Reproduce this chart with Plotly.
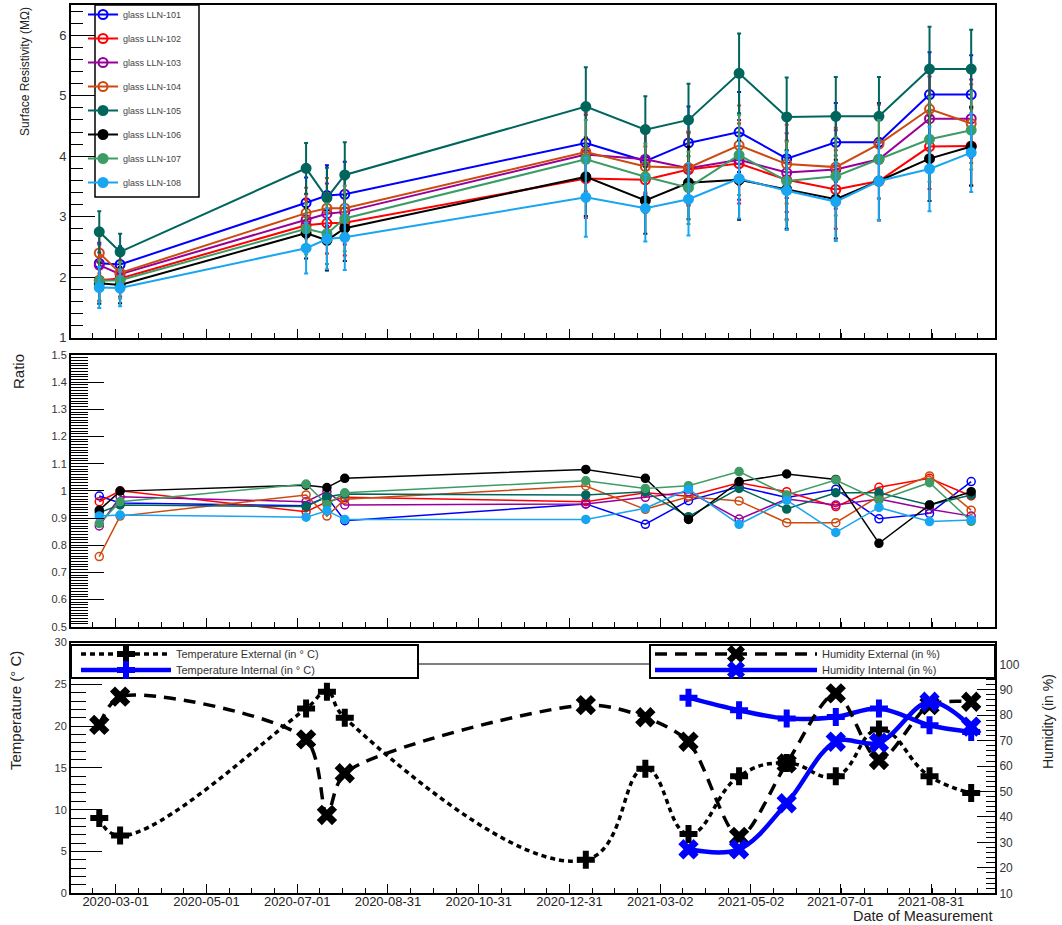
import plotly.graph_objects as go

# ---------------- data ----------------
dates = ['2020-02-19', '2020-03-04', '2020-07-07', '2020-07-21', '2020-08-02',
         '2021-01-11', '2021-02-20', '2021-03-21', '2021-04-24', '2021-05-26',
         '2021-06-28', '2021-07-27', '2021-08-30', '2021-09-27']
int_dates = dates[7:]

names = ['glass LLN-101', 'glass LLN-102', 'glass LLN-103', 'glass LLN-104',
         'glass LLN-105', 'glass LLN-106', 'glass LLN-107', 'glass LLN-108']

res_101 = [2.23, 2.21, 3.23, 3.35, 3.37, 4.22, 3.92, 4.22, 4.40, 3.96, 4.23, 4.23, 5.02, 5.02]
res_102 = [1.95, 1.98, 2.86, 2.89, 2.90, 3.63, 3.61, 3.78, 3.88, 3.61, 3.45, 3.59, 4.16, 4.17]
res_103 = [2.20, 2.05, 2.95, 3.05, 3.08, 4.03, 3.95, 3.80, 3.94, 3.73, 3.78, 3.95, 4.62, 4.62]
res_104 = [2.40, 2.07, 3.06, 3.14, 3.14, 4.07, 3.83, 3.81, 4.18, 3.87, 3.82, 4.20, 4.78, 4.54]
res_105 = [2.75, 2.42, 3.80, 3.31, 3.69, 4.82, 4.44, 4.60, 5.37, 4.65, 4.66, 4.66, 5.44, 5.44]
res_106 = [1.90, 1.87, 2.73, 2.61, 2.81, 3.66, 3.27, 3.56, 3.61, 3.45, 3.29, 3.59, 3.96, 4.16]
res_107 = [1.94, 1.95, 2.80, 2.72, 2.97, 3.95, 3.66, 3.48, 4.02, 3.59, 3.67, 3.95, 4.28, 4.43]
res_108 = [1.83, 1.82, 2.48, 2.63, 2.66, 3.32, 3.14, 3.29, 3.63, 3.43, 3.25, 3.59, 3.79, 4.06]
res_err = [0.34, 0.30, 0.42, 0.50, 0.54, 0.65, 0.55, 0.60, 0.66, 0.65, 0.65, 0.65, 0.70, 0.65]

ratio_101 = [0.981, 0.955, 0.945, 0.978, 0.890, 0.952, 0.877, 0.964, 1.015, 0.976, 1.006, 0.897, 0.917, 1.034]
ratio_102 = [0.960, 1.000, 0.923, 0.960, 0.976, 0.960, 0.993, 0.980, 1.030, 0.997, 0.942, 1.013, 1.046, 0.981]
ratio_103 = [0.871, 0.978, 0.960, 0.997, 0.948, 0.952, 0.976, 0.997, 0.896, 0.970, 0.948, 0.970, 0.932, 0.907]
ratio_104 = [0.758, 0.907, 0.985, 0.907, 0.969, 1.018, 0.932, 0.978, 0.963, 0.883, 0.883, 0.980, 1.055, 0.929]
ratio_105 = [0.920, 0.948, 0.942, 0.978, 0.988, 0.985, 0.997, 0.905, 1.009, 0.933, 0.993, 0.993, 0.948, 0.985]
ratio_106 = [0.929, 0.999, 1.021, 1.012, 1.046, 1.079, 1.046, 0.895, 1.034, 1.062, 1.042, 0.807, 0.948, 0.997]
ratio_107 = [0.880, 0.960, 1.025, 0.950, 0.993, 1.037, 1.009, 1.019, 1.071, 0.985, 1.040, 0.966, 1.030, 0.888]
ratio_108 = [0.907, 0.911, 0.903, 0.927, 0.895, 0.895, 0.936, 1.006, 0.877, 0.966, 0.847, 0.939, 0.887, 0.893]

temp_ext = [9.0, 6.9, 22.1, 24.1, 21.0, 4.0, 14.9, 7.1, 14.0, 15.6, 14.0, 19.6, 14.0, 12.0]
hum_ext = [76.2, 87.3, 70.5, 40.8, 57.2, 84.0, 79.2, 69.6, 32.2, 61.1, 88.6, 62.4, 84.0, 85.3]
temp_int = [23.4, 21.9, 20.9, 21.1, 22.1, 20.1, 19.3]
hum_int = [27.3, 27.3, 45.4, 69.6, 69.2, 85.3, 75.5]

x_ticks = ['2020-03-01', '2020-05-01', '2020-07-01', '2020-08-31', '2020-10-31',
           '2020-12-31', '2021-03-02', '2021-05-02', '2021-07-01', '2021-08-31']
res_ticks = [1, 2, 3, 4, 5, 6]
ratio_ticks = [0.5, 0.6, 0.7, 0.8, 0.9, 1.0, 1.1, 1.2, 1.3, 1.4, 1.5]
ratio_labels = ['0.5', '0.6', '0.7', '0.8', '0.9', '1', '1.1', '1.2', '1.3', '1.4', '1.5']
temp_ticks = [0, 5, 10, 15, 20, 25, 30]
hum_ticks = [10, 20, 30, 40, 50, 60, 70, 80, 90, 100]

# ---------------- styles ----------------
colors = ['#0000ff', '#ff0000', '#990099', '#cc4a0f', '#00665c', '#000000', '#3d9c66', '#18a5f2']
symbols = ['circle-open'] * 4 + ['circle'] * 4
FONT = 'Liberation Sans, Arial, sans-serif'
W, H = 1062, 925


def px(v):
    return v / W


def py(v):
    return 1 - v / H


res_all = [res_101, res_102, res_103, res_104, res_105, res_106, res_107, res_108]
ratio_all = [ratio_101, ratio_102, ratio_103, ratio_104, ratio_105, ratio_106, ratio_107, ratio_108]

fig = go.Figure()
for n, r, q, c, s in zip(names, res_all, ratio_all, colors, symbols):
    fig.add_trace(go.Scatter(
        x=dates, y=r, mode='lines+markers', name=n, legend='legend', legendgroup=n,
        line=dict(color=c, width=2),
        marker=dict(symbol=s, size=9, color=c, line=dict(width=2, color=c)),
        error_y=dict(type='data', array=res_err, color=c, thickness=2, width=2),
        xaxis='x', yaxis='y'))
    fig.add_trace(go.Scatter(
        x=dates, y=q, mode='lines+markers', showlegend=False,
        line=dict(color=c, width=1.5),
        marker=dict(symbol=s, size=8, color=c, line=dict(width=1.5, color=c)),
        xaxis='x2', yaxis='y2'))

fig.add_trace(go.Scatter(
    x=dates, y=temp_ext, mode='lines+markers', name='Temperature External (in \u00b0 C)',
    legend='legend2',
    line=dict(color='black', width=3.5, dash='5px,4px', shape='spline', smoothing=1.3),
    marker=dict(symbol='cross', size=15, color='black'),
    xaxis='x3', yaxis='y3'))
fig.add_trace(go.Scatter(
    x=int_dates, y=temp_int, mode='lines+markers', name='Temperature Internal (in \u00b0 C)',
    legend='legend4',
    line=dict(color='#0000ff', width=4.5, shape='spline', smoothing=1.0),
    marker=dict(symbol='cross', size=15, color='#0000ff'),
    xaxis='x3', yaxis='y3'))
fig.add_trace(go.Scatter(
    x=dates, y=hum_ext, mode='lines+markers', name='Humidity External (in %)',
    legend='legend3',
    line=dict(color='black', width=3.5, dash='12px,8px', shape='spline', smoothing=0.8),
    marker=dict(symbol='x', size=18, color='black'),
    xaxis='x3', yaxis='y4'))
fig.add_trace(go.Scatter(
    x=int_dates, y=hum_int, mode='lines+markers', name='Humidity Internal (in %)',
    legend='legend5',
    line=dict(color='#0000ff', width=4.5, shape='spline', smoothing=1.0),
    marker=dict(symbol='x', size=18, color='#0000ff'),
    xaxis='x3', yaxis='y4'))

xr = ['2020-01-31', '2021-10-13']
xdom = [px(71), px(995)]


def xaxis(anchor, labels):
    return dict(
        domain=xdom, anchor=anchor, range=xr, type='date', automargin=False,
        showline=True, linecolor='black', linewidth=2, mirror=True,
        ticks='inside', ticklen=9, tickwidth=1, tickcolor='black',
        tickmode='array', tickvals=x_ticks, ticktext=x_ticks,
        showticklabels=labels, ticklabelstandoff=-5,
        tickfont=dict(family=FONT, size=13, color='#222'),
        minor=dict(ticks='inside', ticklen=5, tickcolor='black', tickmode='linear',
                   tick0='2020-03-01', dtick=15.25 * 86400000),
        showgrid=False, zeroline=False)


def yaxis(dom, rng, tv, tt, major, minor_d, minor_len, fsize, **kw):
    d = dict(
        domain=dom, range=rng, automargin=False,
        showline=True, linecolor='black', linewidth=2,
        ticks='inside', ticklen=major, tickwidth=1, tickcolor='black',
        tickmode='array', tickvals=tv, ticktext=tt,
        tickfont=dict(family=FONT, size=fsize, color='#333'),
        minor=dict(ticks='inside', ticklen=minor_len, tickcolor='black',
                   tickmode='linear', tick0=rng[0], dtick=minor_d),
        showgrid=False, zeroline=False)
    d.update(kw)
    return d


def small_legend(x, y, iw):
    return dict(x=px(x), y=py(y), xanchor='left', yanchor='top', itemwidth=iw,
                bgcolor='rgba(0,0,0,0)', borderwidth=0,
                font=dict(family=FONT, size=11, color='#333'))


fig.update_layout(
    template='none',
    width=W, height=H, margin=dict(l=0, r=0, t=0, b=0, pad=0, autoexpand=False),
    paper_bgcolor='white', plot_bgcolor='white',
    font=dict(family=FONT, color='#222'),
    xaxis=xaxis('y', False),
    xaxis2=xaxis('y2', False),
    xaxis3=xaxis('y3', True),
    yaxis=yaxis([py(337.7), py(5)], [1, 6.5], res_ticks, [str(v) for v in res_ticks],
                24, 0.2, 12, 13, anchor='x', mirror=True),
    yaxis2=yaxis([py(626.7), py(355)], [0.5, 1.5], ratio_ticks, ratio_labels,
                 33, 0.01, 17, 11, anchor='x2', mirror=True),
    yaxis3=yaxis([py(893.3), py(642.5)], [0, 30], temp_ticks, [str(v) for v in temp_ticks],
                 31, 1, 15, 11, anchor='x3', mirror=True),
    yaxis4=yaxis([py(893.3), py(642.5)], [10, 108.6], hum_ticks, [str(v) for v in hum_ticks],
                 18, 2, 9, 12, anchor='x3', overlaying='y3', side='right'),
    legend=dict(x=px(83), y=1.0, xanchor='left', yanchor='top',
                bgcolor='rgba(0,0,0,0)', borderwidth=0, traceorder='grouped',
                tracegroupgap=5, font=dict(family=FONT, size=9, color='#444')),
    legend2=small_legend(76, 639.5, 90),
    legend4=small_legend(76, 655.5, 90),
    legend3=small_legend(650, 639.5, 162),
    legend5=small_legend(650, 655.5, 162),
    showlegend=True,
)

shapes = [
    dict(type='rect', xref='paper', yref='paper', x0=px(95), x1=px(199), y0=py(197), y1=py(5),
         line=dict(color='black', width=1.5), fillcolor='white', layer='above'),
    dict(type='rect', xref='paper', yref='paper', x0=px(71), x1=px(418), y0=py(678), y1=py(645),
         line=dict(color='black', width=2), fillcolor='white', layer='above'),
    dict(type='rect', xref='paper', yref='paper', x0=px(650), x1=px(995), y0=py(678), y1=py(645),
         line=dict(color='black', width=2), fillcolor='white', layer='above'),
    dict(type='line', xref='paper', yref='paper', x0=px(418), x1=px(650), y0=py(664), y1=py(664),
         line=dict(color='black', width=1)),
]
fig.update_layout(shapes=shapes)

ann = [
    dict(text='Surface Resistivity (M\u03a9)', x=px(25), y=py(72), textangle=-90,
         font=dict(size=12, family=FONT, color='#222')),
    dict(text='Ratio', x=px(18), y=py(372), textangle=-90,
         font=dict(size=15, family=FONT, color='#222')),
    dict(text='Temperature (\u00b0 C)', x=px(15), y=py(711), textangle=-90,
         font=dict(size=15, family=FONT, color='#222')),
    dict(text='Humidity (in %)', x=px(1048), y=py(722), textangle=-90,
         font=dict(size=14, family=FONT, color='#222')),
    dict(text='Date of Measurement', x=px(994), y=py(916), xanchor='right',
         font=dict(size=14.5, family=FONT, color='#222')),
]
for a in ann:
    a.setdefault('xanchor', 'center')
    a.update(xref='paper', yref='paper', yanchor='middle', showarrow=False)
fig.update_layout(annotations=ann)

fig.write_html('out.html', config={'displayModeBar': False},
               post_script="document.body.style.margin='0px';document.body.style.overflow='hidden';")
